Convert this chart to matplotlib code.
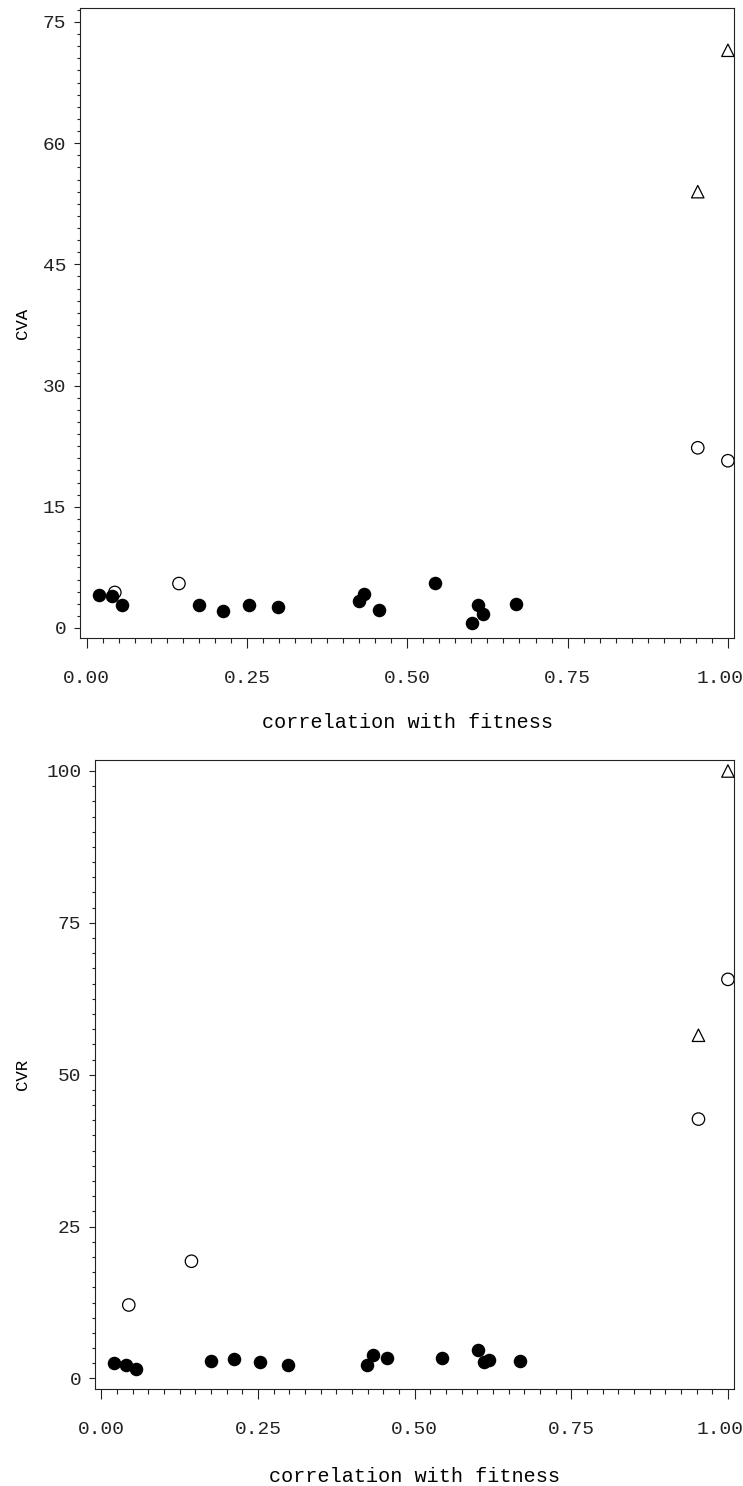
import matplotlib
matplotlib.use("Agg")
import matplotlib.pyplot as plt
from matplotlib.ticker import MultipleLocator, FormatStrFormatter
from matplotlib.transforms import ScaledTranslation

# x = correlation with fitness (same traits in both panels)
corr_filled = [0.020, 0.039, 0.055, 0.175, 0.212, 0.253, 0.298, 0.424, 0.433,
               0.456, 0.544, 0.601, 0.610, 0.618, 0.669]
cva_filled = [4.1, 3.9, 2.8, 2.8, 2.1, 2.8, 2.6, 3.3, 4.2, 2.2, 5.6, 0.6, 2.9, 1.7, 3.0]
cvr_filled = [2.6, 2.2, 1.5, 2.8, 3.2, 2.7, 2.3, 2.2, 3.9, 3.3, 3.3, 4.7, 2.7, 3.1, 2.8]

corr_open = [0.044, 0.144, 0.953, 1.0]
cva_open = [4.4, 5.5, 22.3, 20.7]
cvr_open = [12.1, 19.3, 42.7, 65.7]

corr_tri = [0.953, 1.0]
cva_tri = [54.0, 71.5]
cvr_tri = [56.5, 100.0]

x_ticks = [0.0, 0.25, 0.5, 0.75, 1.0]

plt.rcParams['font.family'] = ['Liberation Mono', 'DejaVu Sans Mono']

W, H = 743, 1486
fig = plt.figure(figsize=(W / 100, H / 100), dpi=100)


def panel(left, right, top, bottom, xlim, ylim, ystep, yminor, yname, yv_f, yv_o, yv_t):
    ax = fig.add_axes([left / W, 1 - bottom / H, (right - left) / W, (bottom - top) / H])
    ax.scatter(corr_filled, yv_f, s=95, c='black', marker='o', linewidths=0, zorder=3)
    ax.scatter(corr_open, yv_o, s=80, facecolors='none', edgecolors='black',
               marker='o', linewidths=0.9, zorder=3)
    ax.scatter(corr_tri, yv_t, s=80, facecolors='none', edgecolors='black',
               marker='^', linewidths=0.9, zorder=3)
    ax.set_xlim(*xlim)
    ax.set_ylim(*ylim)
    ax.set_xticks(x_ticks)
    ax.xaxis.set_minor_locator(MultipleLocator(0.025))
    ax.xaxis.set_major_formatter(FormatStrFormatter('%.2f'))
    ax.yaxis.set_major_locator(MultipleLocator(ystep))
    ax.yaxis.set_minor_locator(MultipleLocator(yminor))
    ax.tick_params(axis='x', which='major', length=7.2, width=0.8, pad=16,
                   labelsize=14, direction='out', colors='#222222')
    ax.tick_params(axis='x', which='minor', length=3.6, width=0.8, direction='out',
                   colors='#222222')
    ax.tick_params(axis='y', which='major', length=4.3, width=0.8, pad=5.5,
                   labelsize=14, direction='out', colors='#222222')
    ax.tick_params(axis='y', which='minor', length=2.4, width=0.8, direction='out',
                   colors='#222222')
    for sp in ax.spines.values():
        sp.set_linewidth(0.8)
        sp.set_color('#222222')
    ax.set_xlabel('correlation with fitness', fontsize=14.5)
    ax.xaxis.label.set_va('center')
    ax.set_ylabel(yname, fontsize=12.5)
    ax.yaxis.label.set_va('center')
    ax.yaxis.set_label_coords((22 - left) / (right - left), 0.5)

    # keep the "1.00" label inside the image edge
    last = ax.get_xticklabels()[-1]
    last.set_transform(last.get_transform() + ScaledTranslation(-8 / 100, 0, fig.dpi_scale_trans))
    return ax


ax1 = panel(80, 734, 8, 638, (-0.0103, 1.0095), (-1.24, 76.73), 15, 1.5, 'CVA',
            cva_filled, cva_open, cva_tri)
ax1.xaxis.set_label_coords(0.5, -(722 - 638) / (638 - 8))

ax2 = panel(95, 734, 760, 1389, (-0.0099, 1.0097), (-1.73, 101.81), 25, 2.5, 'CVR',
            cvr_filled, cvr_open, cvr_tri)
ax2.xaxis.set_label_coords(0.5, -(1476 - 1389) / (1389 - 760))

fig.savefig('out.png', dpi=100)
